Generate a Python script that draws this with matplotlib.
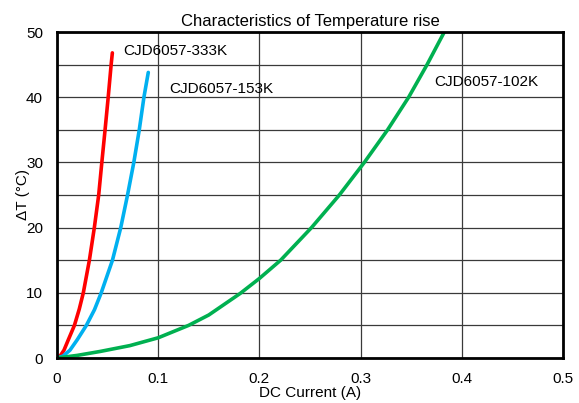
import matplotlib
matplotlib.use('Agg')
import matplotlib.pyplot as plt
import numpy as np

plt.rcParams['font.family'] = ['Liberation Sans', 'DejaVu Sans']

# CJD6057-333K
i_333 = [0, 0.0035, 0.0069, 0.0112, 0.0172, 0.022, 0.026, 0.032, 0.0369, 0.0412, 0.0443, 0.0475, 0.0506, 0.0535, 0.0547]
t_333 = [0, 0.4, 1.2, 2.8, 5, 7.5, 10, 15, 20, 25, 30, 35, 40, 45, 46.8]
# CJD6057-153K
i_153 = [0, 0.006, 0.0128, 0.020, 0.029, 0.037, 0.0437, 0.0548, 0.063, 0.0697, 0.0759, 0.0813, 0.0859, 0.0902]
t_153 = [0, 0.3, 1.2, 2.8, 5, 7.4, 10, 15, 20, 25, 30, 35, 40, 43.8]
# CJD6057-102K
i_102 = [0, 0.02, 0.0425, 0.072, 0.1, 0.13, 0.15, 0.181, 0.2, 0.221, 0.2515, 0.279, 0.3037, 0.3267, 0.3475, 0.3657, 0.3827]
t_102 = [0, 0.4, 1.0, 1.9, 3.1, 5, 6.6, 9.9, 12.2, 15, 20, 25, 30, 35, 40, 45, 50]

fig = plt.figure(figsize=(5.79, 4.03), dpi=100)
ax = fig.add_axes([57/579, 1 - 358/403, (563-57)/579, (358-32)/403])

ax.plot(i_333, t_333, color='#ff0000', lw=2.6, solid_capstyle='round', solid_joinstyle='round')
ax.plot(i_153, t_153, color='#00b0f0', lw=2.6, solid_capstyle='round', solid_joinstyle='round')
ax.plot(i_102, t_102, color='#00b050', lw=2.6, solid_capstyle='round', solid_joinstyle='round')

ax.text(0.065, 47.1, 'CJD6057-333K', fontsize=11, va='center')
ax.text(0.111, 41.3, 'CJD6057-153K', fontsize=11, va='center')
ax.text(0.3725, 42.3, 'CJD6057-102K', fontsize=11, va='center')

ax.set_xlim(0, 0.5)
ax.set_ylim(0, 50)
ax.set_xticks([0, 0.1, 0.2, 0.3, 0.4, 0.5])
ax.set_xticklabels(['0', '0.1', '0.2', '0.3', '0.4', '0.5'])
ax.set_yticks(np.arange(0, 51, 10))
ax.set_yticks(np.arange(0, 51, 5), minor=True)
ax.tick_params(which='both', length=0, labelsize=11)
ax.tick_params(axis='x', pad=10)
ax.tick_params(axis='y', pad=10)
ax.grid(True, which='both', color='#3a3a3a', lw=0.9)
ax.set_axisbelow(True)
for s in ax.spines.values():
    s.set_linewidth(2)
    s.set_color('black')

ax.set_title('Characteristics of Temperature rise', fontsize=12, pad=4)
ax.set_xlabel('DC Current (A)', fontsize=11, labelpad=0)
ax.set_ylabel('ΔT (°C)', fontsize=11, labelpad=-3)

fig.savefig('out.png', dpi=100)
